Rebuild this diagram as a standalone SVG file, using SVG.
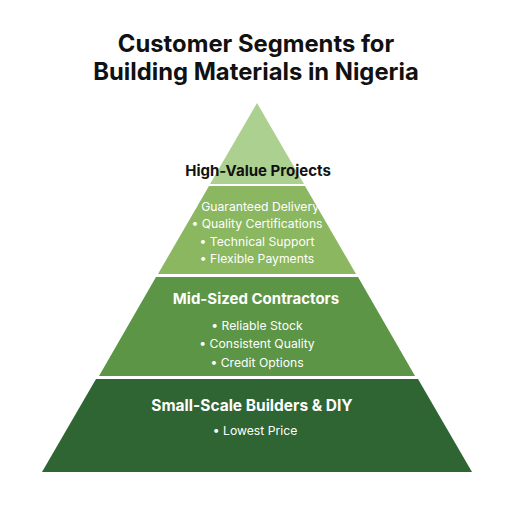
<svg xmlns="http://www.w3.org/2000/svg" width="512" height="512" viewBox="0 0 512 512">
<style>
.title{font-family:Inter,"Liberation Sans",Arial,sans-serif;font-weight:700;font-size:23.8px;fill:#111;text-anchor:middle}
.head{font-family:Inter,"Liberation Sans",Arial,sans-serif;font-weight:700;font-size:15px;text-anchor:middle}
.item{font-family:Inter,"Liberation Sans",Arial,sans-serif;font-size:12.2px;fill:#fff;text-anchor:middle}
</style>
<rect width="512" height="512" fill="#fff"/>
<text class="title" x="256" y="52">Customer Segments for</text>
<text class="title" x="256" y="80">Building Materials in Nigeria</text>
<g id="tier-top">
<polygon points="257,103 304,184 210,184" fill="#acd08f"/>
<text class="head" x="258" y="176" fill="#111">High-Value Projects</text>
</g>
<g id="tier-high">
<polygon points="209,186 305,186 356,274 158,274" fill="#8bb761"/>
<text class="item" x="255" y="211">• Guaranteed Delivery</text>
<text class="item" x="257" y="228">• Quality Certifications</text>
<text class="item" x="257" y="246">• Technical Support</text>
<text class="item" x="257" y="263">• Flexible Payments</text>
</g>
<g id="tier-mid">
<polygon points="156,277 358,277 415,376 99,376" fill="#5c9545"/>
<text class="head" x="256" y="304" fill="#fff">Mid-Sized Contractors</text>
<text class="item" x="257" y="330">• Reliable Stock</text>
<text class="item" x="257" y="348">• Consistent Quality</text>
<text class="item" x="257" y="367">• Credit Options</text>
</g>
<g id="tier-base">
<polygon points="96,379 418,379 472,472 42,472" fill="#2f6532"/>
<text class="head" x="252" y="411" fill="#fff" style="font-size:15.5px">Small-Scale Builders &amp; DIY</text>
<text class="item" x="255" y="435">• Lowest Price</text>
</g>
<g id="connectors"></g>
</svg>
